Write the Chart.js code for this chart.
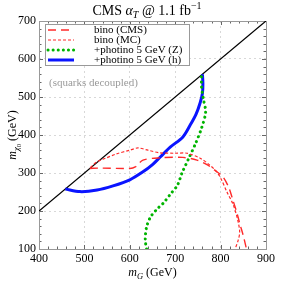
<!DOCTYPE html>
<html>
<head>
<meta charset="utf-8">
<script src="https://cdn.jsdelivr.net/npm/chart.js@4"></script>
<style>
  html, body { margin: 0; padding: 0; background: #fff; }
  #wrap { width: 281px; height: 281px; }
</style>
</head>
<body>
<div id="wrap"><canvas id="sparticleChart" width="281" height="281"></canvas></div>
<script>
// m_G (GeV) ticks, m_chi0 (GeV) ticks
var xTicks = [400, 500, 600, 700, 800, 900]
var yTicks = [100, 200, 300, 400, 500, 600, 700]

// series, [m_G, m_chi0]
var binoCMS = [[512, 312], [534, 313], [600, 312], [612, 316], [629, 334], [667, 340], [717, 341],
  [748, 334], [770, 322], [790, 305], [805, 290], [818, 262], [827, 229], [836, 195], [842, 168],
  [850, 135], [857, 100]]
var binoMC = [[513, 314], [527, 329], [545, 338], [570, 350], [600, 360], [618, 366], [640, 360],
  [667, 353], [700, 352], [726, 352], [755, 339], [775, 322], [790, 305], [800, 287], [814, 250],
  [828, 216], [838, 175], [842, 145], [839, 124], [832, 100]]
var photinoZ = [[637, 100], [634, 124], [637, 158], [646, 185], [660, 205], [674, 221], [690, 245],
  [705, 268], [715, 300], [730, 339], [745, 378], [758, 418], [767, 460], [762, 495], [758, 526],
  [758, 557]]
var photinoH = [[458, 258], [490, 251], [528, 255], [563, 266], [600, 282], [629, 303], [650, 322],
  [667, 342], [689, 368], [717, 395], [733, 426], [746, 455], [755, 485], [760, 510], [761, 535],
  [760, 560]]
// squark-decoupled boundary m_chi0 = m_G - 200
var boundary = [[400, 200], [900, 700]]

var serif = '"Liberation Serif", "DejaVu Serif", serif'

function pts (arr) {
  return arr.map(function (p) { return { x: p[0], y: p[1] } })
}

// draws "base_sub" style text pieces, returns the width
function richText (ctx, parts, x, y, measureOnly) {
  var cx = x
  parts.forEach(function (p) {
    ctx.font = (p.italic ? 'italic ' : '') + p.size + 'px ' + serif
    if (!measureOnly) ctx.fillText(p.t, cx, y + (p.dy || 0))
    cx += ctx.measureText(p.t).width
  })
  return cx - x
}

var decor = {
  id: 'decor',
  beforeDatasetsDraw: function (chart) {
    var ctx = chart.ctx
    var a = chart.chartArea
    var xs = chart.scales.x
    var ys = chart.scales.y
    ctx.save()
    ctx.strokeStyle = '#666'
    ctx.lineWidth = 1
    ctx.beginPath()
    // minor / major ticks, inward on all four sides
    for (var v = 400; v <= 900; v += 20) {
      var px = Math.round(xs.getPixelForValue(v)) + 0.5
      var len = v % 100 === 0 ? 4 : 2.5
      ctx.moveTo(px, a.bottom); ctx.lineTo(px, a.bottom - len)
      ctx.moveTo(px, a.top); ctx.lineTo(px, a.top + len)
    }
    for (var w = 100; w <= 700; w += 20) {
      var py = Math.round(ys.getPixelForValue(w)) + 0.5
      var ln = w % 100 === 0 ? 4 : 2.5
      ctx.moveTo(a.left, py); ctx.lineTo(a.left + ln, py)
      ctx.moveTo(a.right, py); ctx.lineTo(a.right - ln, py)
    }
    ctx.stroke()
    ctx.strokeStyle = '#999'
    ctx.strokeRect(Math.round(a.left) + 0.5, Math.round(a.top) + 0.5,
      Math.round(a.right - a.left), Math.round(a.bottom - a.top))
    ctx.restore()
  },
  afterDraw: function (chart) {
    var ctx = chart.ctx
    var a = chart.chartArea
    ctx.save()
    ctx.fillStyle = '#000'
    ctx.textBaseline = 'alphabetic'

    // title
    var title = [
      { t: 'CMS ', size: 14 }, { t: 'α', size: 14, italic: true },
      { t: 'T', size: 10, italic: true, dy: 3 }, { t: ' @ 1.1 fb', size: 14 },
      { t: '−1', size: 10, dy: -6 }
    ]
    var tw = richText(ctx, title, 0, 0, true)
    richText(ctx, title, 147 - tw / 2, 15)

    // x axis title
    var xt = [{ t: 'm', size: 12, italic: true }, { t: 'G', size: 8.5, italic: true, dy: 3 },
      { t: ' (GeV)', size: 12 }]
    var xw = richText(ctx, xt, 0, 0, true)
    richText(ctx, xt, (a.left + a.right) / 2 - xw / 2, 276)

    // y axis title
    var yt = [{ t: 'm', size: 12, italic: true }, { t: 'χ', size: 8.5, italic: true, dy: 3 },
      { t: '0', size: 6.5, dy: 5 }, { t: ' (GeV)', size: 12 }]
    var yw = richText(ctx, yt, 0, 0, true)
    ctx.translate(16, (a.top + a.bottom) / 2)
    ctx.rotate(-Math.PI / 2)
    richText(ctx, yt, -yw / 2, 0)
    ctx.setTransform(1, 0, 0, 1, 0, 0)

    // annotation
    ctx.fillStyle = '#999'
    ctx.font = '11px ' + serif
    ctx.fillText('(squarks decoupled)', 49, 86)

    // legend
    var lx = 45.5, ly = 24.5, lw = 144, lh = 41
    ctx.fillStyle = '#fff'
    ctx.fillRect(lx, ly, lw, lh)
    ctx.strokeStyle = '#999'
    ctx.lineWidth = 1
    ctx.strokeRect(lx, ly, lw, lh)
    var order = [0, 1, 2, 3]
    order.forEach(function (i, row) {
      var ds = chart.data.datasets[i]
      var yy = 30 + row * 10
      ctx.beginPath()
      ctx.strokeStyle = ds.borderColor
      ctx.lineWidth = ds.borderWidth
      ctx.lineCap = ds.borderCapStyle || 'butt'
      ctx.setLineDash(ds.borderDash || [])
      ctx.moveTo(48, yy)
      ctx.lineTo(74, yy)
      ctx.stroke()
      ctx.setLineDash([])
      ctx.fillStyle = '#000'
      ctx.font = '11px ' + serif
      ctx.textBaseline = 'middle'
      ctx.fillText(ds.label, 94, yy + 0.5)
    })
    ctx.restore()
  }
}

var ctx = document.getElementById('sparticleChart').getContext('2d')
var chart = new Chart(ctx, {
  type: 'scatter',
  data: {
    datasets: [
      {
        label: 'bino (CMS)',
        data: pts(binoCMS),
        showLine: true,
        borderColor: '#ff2a2a',
        borderWidth: 1.4,
        borderDash: [8, 5],
        tension: 0.3,
        pointRadius: 0
      },
      {
        label: 'bino (MC)',
        data: pts(binoMC),
        showLine: true,
        borderColor: '#ff2a2a',
        borderWidth: 1.2,
        borderDash: [3, 2],
        tension: 0.3,
        pointRadius: 0
      },
      {
        label: '+photino 5 GeV (Z)',
        data: pts(photinoZ),
        showLine: true,
        borderColor: '#00b400',
        borderWidth: 3,
        borderDash: [0.1, 5],
        borderCapStyle: 'round',
        tension: 0.3,
        pointRadius: 0
      },
      {
        label: '+photino 5 GeV (h)',
        data: pts(photinoH),
        showLine: true,
        borderColor: '#0a14ff',
        borderWidth: 3,
        tension: 0.3,
        pointRadius: 0
      },
      {
        label: 'boundary',
        data: pts(boundary),
        showLine: true,
        borderColor: '#000',
        borderWidth: 1.3,
        pointRadius: 0
      }
    ]
  },
  options: {
    responsive: false,
    animation: false,
    layout: { padding: { left: 0, right: 15, top: 21, bottom: 0 } },
    plugins: {
      legend: { display: false },
      tooltip: { enabled: false },
      title: { display: false }
    },
    scales: {
      x: {
        type: 'linear',
        min: 400,
        max: 900,
        afterBuildTicks: function (s) { s.ticks = xTicks.map(function (v) { return { value: v } }) },
        afterFit: function (s) { s.height = 32 },
        ticks: { color: '#000', padding: 3, font: { family: serif, size: 12 } },
        grid: { color: '#d8d8d8', drawTicks: false },
        border: { display: false, dash: [2, 3] }
      },
      y: {
        type: 'linear',
        min: 100,
        max: 700,
        afterBuildTicks: function (s) { s.ticks = yTicks.map(function (v) { return { value: v } }) },
        afterFit: function (s) { s.width = 39 },
        ticks: { color: '#000', padding: 3, font: { family: serif, size: 12 } },
        grid: { color: '#d8d8d8', drawTicks: false },
        border: { display: false, dash: [2, 3] }
      }
    }
  },
  plugins: [decor]
})
</script>
</body>
</html>
